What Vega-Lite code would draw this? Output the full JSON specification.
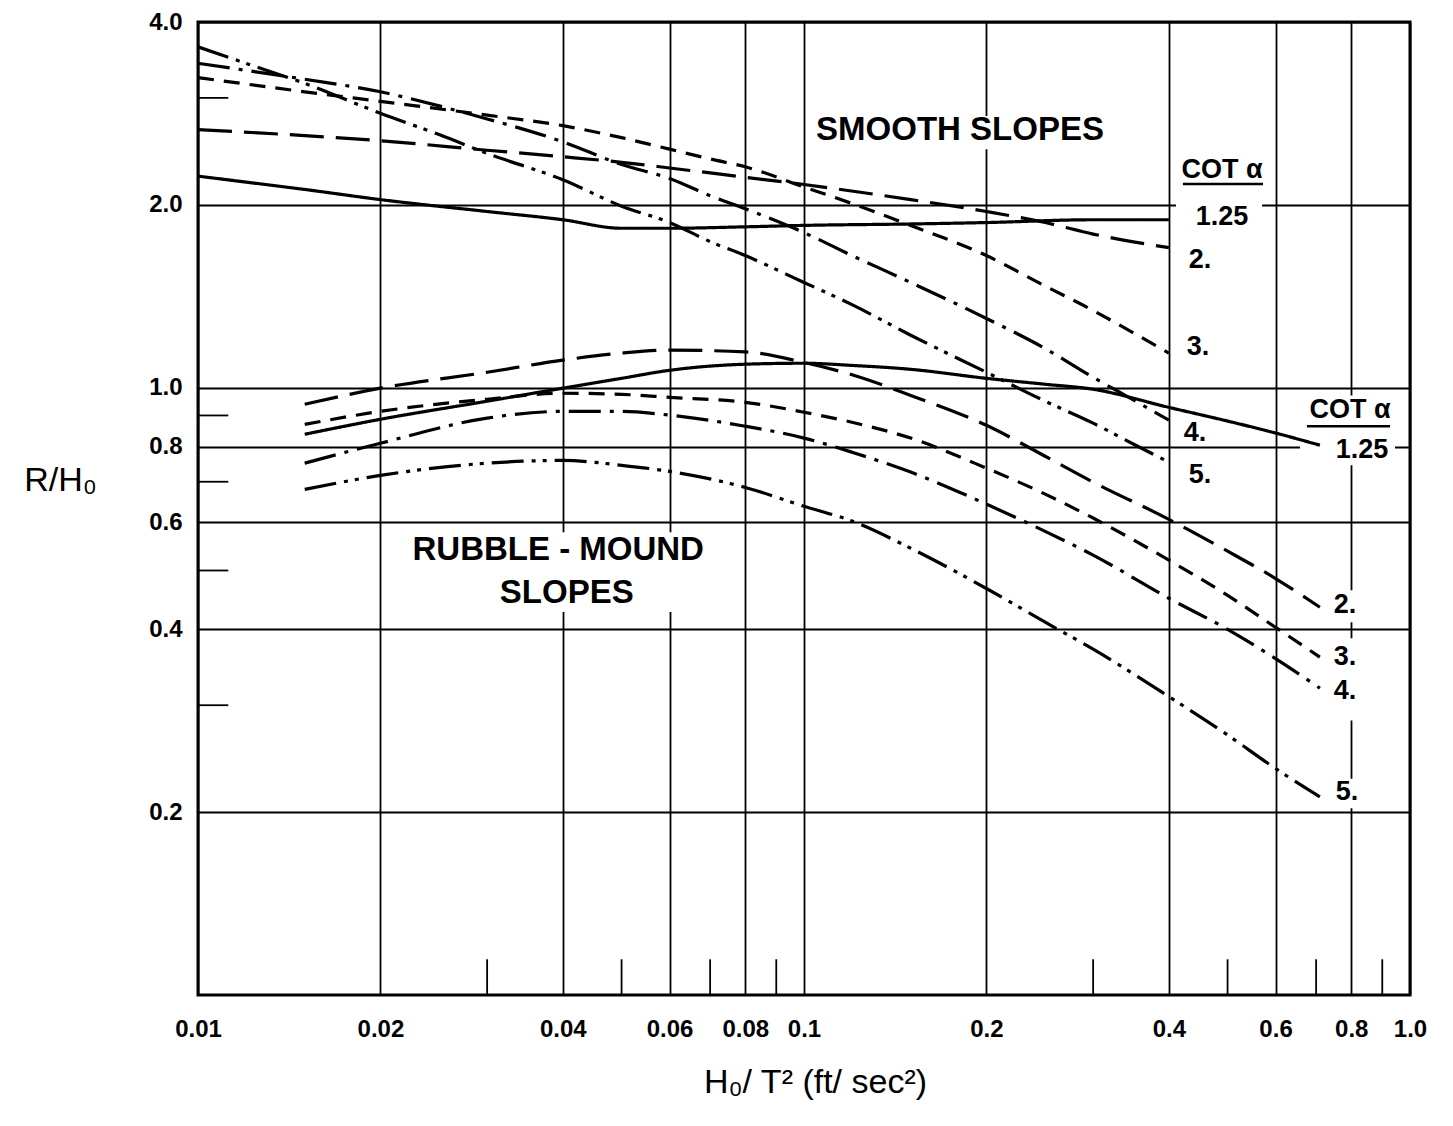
{
  "$schema": "https://vega.github.io/schema/vega-lite/v6.json",
  "width": 1212,
  "height": 973,
  "autosize": {"type": "none"},
  "padding": {"left": 198, "top": 22, "right": 43, "bottom": 131},
  "background": "white",
  "config": {
    "view": {"stroke": "black", "strokeWidth": 3},
    "font": "Liberation Sans",
    "axis": {
      "domain": false, "ticks": false, "tickSize": 0,
      "grid": true, "gridColor": "black", "gridOpacity": 1, "gridWidth": 1.8,
      "labelFont": "Liberation Sans", "labelFontWeight": "bold", "labelFontSize": 24, "labelColor": "black",
      "titleFont": "Liberation Sans", "titleFontWeight": "normal", "titleColor": "black", "titleFontSize": 34,
      "labelOverlap": false
    }
  },
  "datasets": {
    "curves": [
      {"g":"smooth","cot":"1.25","x":0.01,"y":2.23},{"g":"smooth","cot":"1.25","x":0.012,"y":2.18},{"g":"smooth","cot":"1.25","x":0.015,"y":2.12},{"g":"smooth","cot":"1.25","x":0.02,"y":2.04},{"g":"smooth","cot":"1.25","x":0.03,"y":1.95},{"g":"smooth","cot":"1.25","x":0.04,"y":1.89},{"g":"smooth","cot":"1.25","x":0.05,"y":1.83},{"g":"smooth","cot":"1.25","x":0.06,"y":1.83},{"g":"smooth","cot":"1.25","x":0.08,"y":1.84},{"g":"smooth","cot":"1.25","x":0.1,"y":1.85},{"g":"smooth","cot":"1.25","x":0.15,"y":1.86},{"g":"smooth","cot":"1.25","x":0.2,"y":1.87},{"g":"smooth","cot":"1.25","x":0.3,"y":1.89},{"g":"smooth","cot":"1.25","x":0.4,"y":1.89},
      {"g":"smooth","cot":"2","x":0.01,"y":2.66},{"g":"smooth","cot":"2","x":0.015,"y":2.60},{"g":"smooth","cot":"2","x":0.02,"y":2.55},{"g":"smooth","cot":"2","x":0.03,"y":2.46},{"g":"smooth","cot":"2","x":0.04,"y":2.40},{"g":"smooth","cot":"2","x":0.05,"y":2.35},{"g":"smooth","cot":"2","x":0.06,"y":2.30},{"g":"smooth","cot":"2","x":0.08,"y":2.22},{"g":"smooth","cot":"2","x":0.1,"y":2.16},{"g":"smooth","cot":"2","x":0.15,"y":2.04},{"g":"smooth","cot":"2","x":0.2,"y":1.95},{"g":"smooth","cot":"2","x":0.25,"y":1.87},{"g":"smooth","cot":"2","x":0.3,"y":1.79},{"g":"smooth","cot":"2","x":0.4,"y":1.70},
      {"g":"smooth","cot":"3","x":0.01,"y":3.24},{"g":"smooth","cot":"3","x":0.015,"y":3.07},{"g":"smooth","cot":"3","x":0.02,"y":2.96},{"g":"smooth","cot":"3","x":0.03,"y":2.81},{"g":"smooth","cot":"3","x":0.04,"y":2.70},{"g":"smooth","cot":"3","x":0.05,"y":2.58},{"g":"smooth","cot":"3","x":0.06,"y":2.47},{"g":"smooth","cot":"3","x":0.07,"y":2.38},{"g":"smooth","cot":"3","x":0.08,"y":2.31},{"g":"smooth","cot":"3","x":0.1,"y":2.14},{"g":"smooth","cot":"3","x":0.12,"y":2.01},{"g":"smooth","cot":"3","x":0.15,"y":1.85},{"g":"smooth","cot":"3","x":0.2,"y":1.65},{"g":"smooth","cot":"3","x":0.25,"y":1.47},{"g":"smooth","cot":"3","x":0.3,"y":1.34},{"g":"smooth","cot":"3","x":0.35,"y":1.23},{"g":"smooth","cot":"3","x":0.4,"y":1.14},
      {"g":"smooth","cot":"4","x":0.01,"y":3.42},{"g":"smooth","cot":"4","x":0.012,"y":3.33},{"g":"smooth","cot":"4","x":0.015,"y":3.22},{"g":"smooth","cot":"4","x":0.02,"y":3.07},{"g":"smooth","cot":"4","x":0.025,"y":2.91},{"g":"smooth","cot":"4","x":0.03,"y":2.77},{"g":"smooth","cot":"4","x":0.04,"y":2.54},{"g":"smooth","cot":"4","x":0.05,"y":2.33},{"g":"smooth","cot":"4","x":0.06,"y":2.21},{"g":"smooth","cot":"4","x":0.07,"y":2.07},{"g":"smooth","cot":"4","x":0.08,"y":1.97},{"g":"smooth","cot":"4","x":0.1,"y":1.80},{"g":"smooth","cot":"4","x":0.12,"y":1.65},{"g":"smooth","cot":"4","x":0.15,"y":1.49},{"g":"smooth","cot":"4","x":0.2,"y":1.30},{"g":"smooth","cot":"4","x":0.25,"y":1.16},{"g":"smooth","cot":"4","x":0.3,"y":1.04},{"g":"smooth","cot":"4","x":0.35,"y":0.954},{"g":"smooth","cot":"4","x":0.4,"y":0.884},
      {"g":"smooth","cot":"5","x":0.01,"y":3.64},{"g":"smooth","cot":"5","x":0.012,"y":3.42},{"g":"smooth","cot":"5","x":0.015,"y":3.17},{"g":"smooth","cot":"5","x":0.02,"y":2.83},{"g":"smooth","cot":"5","x":0.025,"y":2.61},{"g":"smooth","cot":"5","x":0.03,"y":2.43},{"g":"smooth","cot":"5","x":0.04,"y":2.20},{"g":"smooth","cot":"5","x":0.05,"y":1.99},{"g":"smooth","cot":"5","x":0.06,"y":1.87},{"g":"smooth","cot":"5","x":0.07,"y":1.74},{"g":"smooth","cot":"5","x":0.08,"y":1.65},{"g":"smooth","cot":"5","x":0.1,"y":1.49},{"g":"smooth","cot":"5","x":0.12,"y":1.37},{"g":"smooth","cot":"5","x":0.15,"y":1.22},{"g":"smooth","cot":"5","x":0.2,"y":1.06},{"g":"smooth","cot":"5","x":0.25,"y":0.95},{"g":"smooth","cot":"5","x":0.3,"y":0.874},{"g":"smooth","cot":"5","x":0.35,"y":0.807},{"g":"smooth","cot":"5","x":0.4,"y":0.754},
      {"g":"rubble","cot":"1.25","x":0.015,"y":0.838},{"g":"rubble","cot":"1.25","x":0.02,"y":0.887},{"g":"rubble","cot":"1.25","x":0.03,"y":0.950},{"g":"rubble","cot":"1.25","x":0.04,"y":0.998},{"g":"rubble","cot":"1.25","x":0.05,"y":1.036},{"g":"rubble","cot":"1.25","x":0.06,"y":1.068},{"g":"rubble","cot":"1.25","x":0.08,"y":1.093},{"g":"rubble","cot":"1.25","x":0.1,"y":1.097},{"g":"rubble","cot":"1.25","x":0.12,"y":1.088},{"g":"rubble","cot":"1.25","x":0.15,"y":1.072},{"g":"rubble","cot":"1.25","x":0.2,"y":1.036},{"g":"rubble","cot":"1.25","x":0.25,"y":1.013},{"g":"rubble","cot":"1.25","x":0.3,"y":0.994},{"g":"rubble","cot":"1.25","x":0.4,"y":0.928},{"g":"rubble","cot":"1.25","x":0.5,"y":0.881},{"g":"rubble","cot":"1.25","x":0.6,"y":0.842},{"g":"rubble","cot":"1.25","x":0.71,"y":0.804},
      {"g":"rubble","cot":"2","x":0.015,"y":0.939},{"g":"rubble","cot":"2","x":0.02,"y":0.998},{"g":"rubble","cot":"2","x":0.03,"y":1.060},{"g":"rubble","cot":"2","x":0.04,"y":1.11},{"g":"rubble","cot":"2","x":0.05,"y":1.140},{"g":"rubble","cot":"2","x":0.06,"y":1.153},{"g":"rubble","cot":"2","x":0.08,"y":1.145},{"g":"rubble","cot":"2","x":0.1,"y":1.10},{"g":"rubble","cot":"2","x":0.12,"y":1.05},{"g":"rubble","cot":"2","x":0.15,"y":0.971},{"g":"rubble","cot":"2","x":0.2,"y":0.867},{"g":"rubble","cot":"2","x":0.25,"y":0.771},{"g":"rubble","cot":"2","x":0.3,"y":0.699},{"g":"rubble","cot":"2","x":0.4,"y":0.607},{"g":"rubble","cot":"2","x":0.5,"y":0.538},{"g":"rubble","cot":"2","x":0.6,"y":0.485},{"g":"rubble","cot":"2","x":0.71,"y":0.435},
      {"g":"rubble","cot":"3","x":0.015,"y":0.870},{"g":"rubble","cot":"3","x":0.02,"y":0.914},{"g":"rubble","cot":"3","x":0.03,"y":0.957},{"g":"rubble","cot":"3","x":0.04,"y":0.979},{"g":"rubble","cot":"3","x":0.05,"y":0.975},{"g":"rubble","cot":"3","x":0.06,"y":0.964},{"g":"rubble","cot":"3","x":0.08,"y":0.946},{"g":"rubble","cot":"3","x":0.1,"y":0.911},{"g":"rubble","cot":"3","x":0.12,"y":0.877},{"g":"rubble","cot":"3","x":0.15,"y":0.826},{"g":"rubble","cot":"3","x":0.2,"y":0.737},{"g":"rubble","cot":"3","x":0.25,"y":0.668},{"g":"rubble","cot":"3","x":0.3,"y":0.610},{"g":"rubble","cot":"3","x":0.4,"y":0.520},{"g":"rubble","cot":"3","x":0.5,"y":0.455},{"g":"rubble","cot":"3","x":0.6,"y":0.403},{"g":"rubble","cot":"3","x":0.71,"y":0.360},
      {"g":"rubble","cot":"4","x":0.015,"y":0.751},{"g":"rubble","cot":"4","x":0.02,"y":0.810},{"g":"rubble","cot":"4","x":0.03,"y":0.891},{"g":"rubble","cot":"4","x":0.04,"y":0.914},{"g":"rubble","cot":"4","x":0.05,"y":0.914},{"g":"rubble","cot":"4","x":0.06,"y":0.901},{"g":"rubble","cot":"4","x":0.08,"y":0.864},{"g":"rubble","cot":"4","x":0.1,"y":0.826},{"g":"rubble","cot":"4","x":0.12,"y":0.783},{"g":"rubble","cot":"4","x":0.15,"y":0.726},{"g":"rubble","cot":"4","x":0.2,"y":0.643},{"g":"rubble","cot":"4","x":0.25,"y":0.580},{"g":"rubble","cot":"4","x":0.3,"y":0.530},{"g":"rubble","cot":"4","x":0.4,"y":0.450},{"g":"rubble","cot":"4","x":0.5,"y":0.400},{"g":"rubble","cot":"4","x":0.6,"y":0.358},{"g":"rubble","cot":"4","x":0.71,"y":0.320},
      {"g":"rubble","cot":"5","x":0.015,"y":0.680},{"g":"rubble","cot":"5","x":0.02,"y":0.717},{"g":"rubble","cot":"5","x":0.03,"y":0.751},{"g":"rubble","cot":"5","x":0.04,"y":0.759},{"g":"rubble","cot":"5","x":0.05,"y":0.745},{"g":"rubble","cot":"5","x":0.06,"y":0.728},{"g":"rubble","cot":"5","x":0.08,"y":0.685},{"g":"rubble","cot":"5","x":0.1,"y":0.638},{"g":"rubble","cot":"5","x":0.12,"y":0.603},{"g":"rubble","cot":"5","x":0.15,"y":0.544},{"g":"rubble","cot":"5","x":0.2,"y":0.467},{"g":"rubble","cot":"5","x":0.25,"y":0.411},{"g":"rubble","cot":"5","x":0.3,"y":0.371},{"g":"rubble","cot":"5","x":0.4,"y":0.310},{"g":"rubble","cot":"5","x":0.5,"y":0.268},{"g":"rubble","cot":"5","x":0.6,"y":0.236},{"g":"rubble","cot":"5","x":0.71,"y":0.212}
    ],
    "boxes": [
      {"x":0.104,"x2":0.326,"y":2.80,"y2":2.47},
      {"x":0.411,"x2":0.570,"y":2.075,"y2":1.783},
      {"x":0.0215,"x2":0.0713,"y":0.578,"y2":0.427},
      {"x":0.6585,"x2":0.9446,"y":0.971,"y2":0.745},
      {"x":0.732,"x2":0.833,"y":0.464,"y2":0.411},
      {"x":0.732,"x2":0.833,"y":0.3866,"y2":0.283},
      {"x":0.732,"x2":0.833,"y":0.227,"y2":0.203}
    ],
    "xminor": [{"x":0.03},{"x":0.05},{"x":0.07},{"x":0.09},{"x":0.3},{"x":0.5},{"x":0.7},{"x":0.9}],
    "yminor": [{"y":3},{"y":0.9},{"y":0.7},{"y":0.5},{"y":0.3}],
    "bigtext": [
      {"x":0.1809,"y":2.66,"text":"SMOOTH SLOPES"},
      {"x":0.0393,"y":0.540,"text":"RUBBLE - MOUND"},
      {"x":0.0406,"y":0.459,"text":"SLOPES"}
    ],
    "cotlabels": [
      {"x":0.4896,"y":2.28,"text":"COT α"},
      {"x":0.4896,"y":1.909,"text":"1.25"},
      {"x":0.4503,"y":1.62,"text":"2."},
      {"x":0.4467,"y":1.166,"text":"3."},
      {"x":0.4418,"y":0.842,"text":"4."},
      {"x":0.4503,"y":0.717,"text":"5."},
      {"x":0.796,"y":0.918,"text":"COT α"},
      {"x":0.833,"y":0.789,"text":"1.25"},
      {"x":0.781,"y":0.438,"text":"2."},
      {"x":0.781,"y":0.360,"text":"3."},
      {"x":0.781,"y":0.317,"text":"4."},
      {"x":0.787,"y":0.2155,"text":"5."}
    ],
    "underlines": [
      {"x":0.422,"x2":0.572,"y":2.164},
      {"x":0.676,"x2":0.927,"y":0.864}
    ]
  },
  "layer": [
    {
      "data": {"name": "boxes"},
      "mark": {"type": "rect", "fill": "white", "strokeWidth": 0},
      "encoding": {
        "x": {"field": "x", "type": "quantitative",
          "scale": {"type": "log", "domain": [0.01, 1], "nice": false},
          "axis": {"title": "H₀/ T²  (ft/ sec²)", "values": [0.01,0.02,0.04,0.06,0.08,0.1,0.2,0.4,0.6,0.8,1],
            "format": "~g", "labelExpr": "datum.value == 1 ? '1.0' : datum.label",
            "labelPadding": 22, "labelFlush": false,
            "titleX": 617, "titleY": 87, "titleAlign": "center", "titleBaseline": "middle"}},
        "x2": {"field": "x2"},
        "y": {"field": "y", "type": "quantitative",
          "scale": {"type": "log", "domain": [0.1, 4], "nice": false},
          "axis": {"title": "R/H₀", "values": [0.2,0.4,0.6,0.8,1,2,4], "format": ".1f",
            "labelPadding": 16, "titleAngle": 0, "titleX": -138, "titleY": 458,
            "titleAlign": "center", "titleBaseline": "middle"}},
        "y2": {"field": "y2"}
      }
    },
    {
      "data": {"name": "xminor"},
      "mark": {"type": "rule", "color": "black", "strokeWidth": 1.8},
      "encoding": {
        "x": {"field": "x", "type": "quantitative"},
        "y": {"datum": 0.1, "type": "quantitative"},
        "y2": {"datum": 0.1145}
      }
    },
    {
      "data": {"name": "yminor"},
      "mark": {"type": "rule", "color": "black", "strokeWidth": 1.8},
      "encoding": {
        "y": {"field": "y", "type": "quantitative"},
        "x": {"datum": 0.01, "type": "quantitative"},
        "x2": {"datum": 0.01122}
      }
    },
    {
      "data": {"name": "curves"},
      "mark": {"type": "line", "color": "black", "strokeWidth": 3.2, "strokeCap": "butt", "interpolate": "monotone"},
      "encoding": {
        "x": {"field": "x", "type": "quantitative"},
        "y": {"field": "y", "type": "quantitative"},
        "strokeDash": {"field": "cot", "type": "nominal",
          "scale": {"domain": ["1.25","2","3","4","5"],
            "range": [[1,0],[34,12],[16,10],[32,9,4,9],[32,8,4,7,4,8]]},
          "legend": null},
        "detail": {"field": "g", "type": "nominal"}
      }
    },
    {
      "data": {"name": "underlines"},
      "mark": {"type": "rule", "color": "black", "strokeWidth": 2.5},
      "encoding": {
        "x": {"field": "x", "type": "quantitative"},
        "x2": {"field": "x2"},
        "y": {"field": "y", "type": "quantitative"}
      }
    },
    {
      "data": {"name": "bigtext"},
      "mark": {"type": "text", "font": "Liberation Sans", "fontWeight": "bold", "fontSize": 33, "align": "center", "baseline": "middle", "color": "black"},
      "encoding": {
        "x": {"field": "x", "type": "quantitative"},
        "y": {"field": "y", "type": "quantitative"},
        "text": {"field": "text"}
      }
    },
    {
      "data": {"name": "cotlabels"},
      "mark": {"type": "text", "font": "Liberation Sans", "fontWeight": "bold", "fontSize": 27, "align": "center", "baseline": "middle", "color": "black"},
      "encoding": {
        "x": {"field": "x", "type": "quantitative"},
        "y": {"field": "y", "type": "quantitative"},
        "text": {"field": "text"}
      }
    }
  ]
}
